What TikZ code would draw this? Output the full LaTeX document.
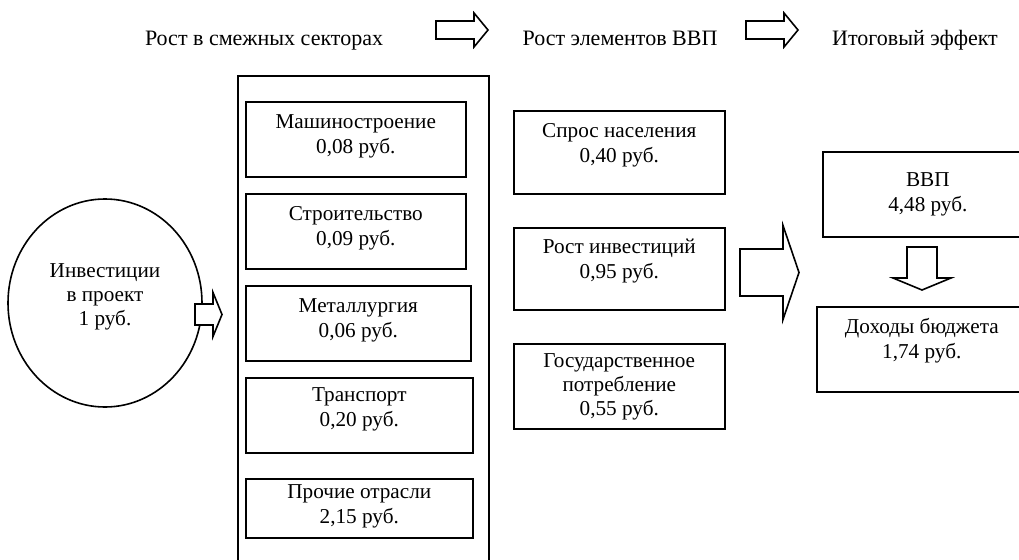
\documentclass[tikz,border=0pt]{standalone}
\usepackage{fontspec}
\setmainfont{Liberation Serif}
\usetikzlibrary{shapes.geometric}
\newcommand{\boxtext}[1]{\begin{tabular}[t]{@{}c@{}}#1\end{tabular}}
% hollow block arrows: tail, length, shaft half width, head half width, head length
\newcommand{\rightblock}[5]{\draw[blockline] #1 ++(0,-#3) -- ++(#2-#5,0) -- ++(0,#3-#4) -- ++(#5,#4) -- ++(-#5,#4) -- ++(0,#3-#4) -- ++(#5-#2,0) -- cycle;}
\newcommand{\downblock}[5]{\draw[blockline] #1 ++(-#3,0) -- ++(0,#2-#5) -- ++(#3-#4,0) -- ++(#4,#5) -- ++(#4,-#5) -- ++(#3-#4,0) -- ++(0,#5-#2) -- cycle;}

\begin{document}
\begin{tikzpicture}[x=1pt,y=-1pt,font=\fontsize{21.2}{24.3}\selectfont,line width=1.6pt]
    \tikzstyle{sector} = [draw,rectangle,inner sep=0pt,anchor=north west,text height=27pt]
    \tikzstyle{heading} = [anchor=base,font=\fontsize{22}{25}\selectfont]
    \tikzstyle{blockline} = [draw,fill=white,line join=miter]
      \path[use as bounding box,clip] (0,0) rectangle (1019,559);
      % headings
      \node[heading] (sectors) at (264,46) {Рост в смежных секторах};
      \node[heading] (elements) at (620,46) {Рост элементов ВВП};
      \node[heading] (effect) at (915,46) {Итоговый эффект};
      \coordinate (headA) at (436,30);
      \coordinate (headB) at (746,30);
      \rightblock{(headA)}{52}{9}{17}{14}
      \rightblock{(headB)}{52}{9}{17}{14}
      % related sectors
      \node[draw,inner sep=0pt,anchor=north west,minimum width=251pt,minimum height=540pt] (frame) at (237,75) {};
      \node[sector,minimum width=220pt,text depth=48pt] (mach) at (245,101) {\boxtext{Машиностроение\\0,08 руб.}};
      \node[sector,minimum width=220pt,text depth=48pt] (constr) at (245,193) {\boxtext{Строительство\\0,09 руб.}};
      \node[sector,minimum width=225pt,text depth=48pt] (metal) at (245,285) {\boxtext{Металлургия\\0,06 руб.}};
      \node[sector,minimum width=227pt,text height=24pt,text depth=51pt] (transp) at (245,377) {\boxtext{Транспорт\\0,20 руб.}};
      \node[sector,minimum width=227pt,text height=20pt,text depth=39pt] (other) at (245,478) {\boxtext{Прочие отрасли\\2,15 руб.}};
      % GDP elements
      \node[sector,minimum width=211pt,text depth=56pt] (demand) at (513,110) {\boxtext{Спрос населения\\0,40 руб.}};
      \node[sector,minimum width=211pt,text height=26pt,text depth=56pt] (invest) at (513,227) {\boxtext{Рост инвестиций\\0,95 руб.}};
      \node[sector,minimum width=211pt,text height=23.5pt,text depth=61.5pt] (govt) at (513,343) {\boxtext{Государственное\\потребление\\0,55 руб.}};
      % total effect
      \node[sector,minimum width=210pt,text height=35pt,text depth=50pt] (gdp) at (822,151) {\boxtext{ВВП\\4,48 руб.}};
      \node[sector,minimum width=210pt,text depth=58pt] (budget) at (816,306) {\boxtext{Доходы бюджета\\1,74 руб.}};
      % project
      \node[draw,ellipse,inner sep=0pt,minimum width=194pt,minimum height=208pt,text height=28pt,text depth=80pt] (project) at (105,303) {\boxtext{Инвестиции\\в проект\\1 руб.}};
      \coordinate (projout) at (195,314.5);
      \coordinate (elemout) at (740,272.5);
      \coordinate (gdpout) at (922,247);
      \rightblock{(projout)}{27}{10.5}{22}{9}
      \rightblock{(elemout)}{59}{23.5}{47}{16}
      \downblock{(gdpout)}{43}{15}{29}{12}
  \end{tikzpicture}
\end{document}
